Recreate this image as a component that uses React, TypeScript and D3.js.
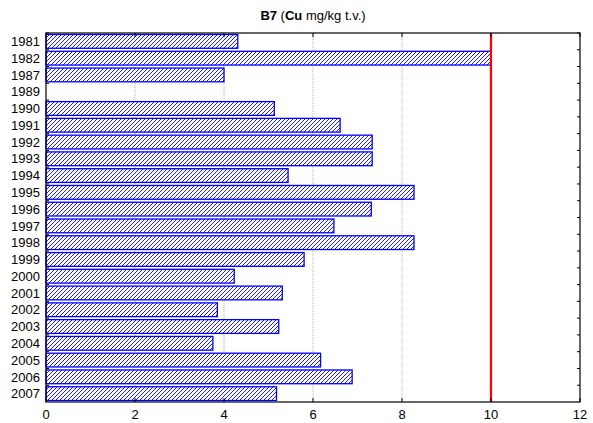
import React from "react";
import * as d3 from "d3";

const years = ["1981","1982","1987","1989","1990","1991","1992","1993","1994","1995","1996","1997","1998","1999","2000","2001","2002","2003","2004","2005","2006","2007"];
const values: (number | null)[] = [4.31,10.0,4.0,null,5.13,6.61,7.33,7.33,5.44,8.27,7.31,6.47,8.27,5.8,4.23,5.31,3.85,5.23,3.75,6.17,6.88,5.18];
const xTicks = [0,2,4,6,8,10,12];
const limitValue = 10;

const W = 593, H = 423;
const M = { left: 46, right: 13, top: 33, bottom: 21 };

export default function App() {
  const x = d3.scaleLinear().domain([0, 12]).range([M.left, W - M.right]);
  const y = d3.scaleBand().domain(years).range([M.top, H - M.bottom]).paddingInner(0.18).paddingOuter(0.09);
  const step = y.step();
  const font = "Liberation Sans, Arial, sans-serif";
  const top = M.top, bottom = H - M.bottom, left = M.left, right = W - M.right;
  return (
    <svg width={W} height={H} style={{ position: "absolute", left: 0, top: 0, background: "#fff" }} fontFamily={font}>
      <defs>
        <pattern id="hatch" patternUnits="userSpaceOnUse" width={4} height={4}>
          <rect width={4} height={4} fill="#fff" />
          <path d="M-1,1 l2,-2 M0,4 l4,-4 M3,5 l2,-2" stroke="#0000ff" strokeWidth={0.9} />
        </pattern>
      </defs>
      <text x={313} y={20} textAnchor="middle" fontSize={13} fill="#000">
        <tspan fontWeight="bold">B7</tspan>
        <tspan> (</tspan>
        <tspan fontWeight="bold">Cu</tspan>
        <tspan> mg/kg t.v.)</tspan>
      </text>
      {xTicks.filter(t => t > 0 && t < 12).map(t => (
        <line key={"g" + t} x1={x(t)} x2={x(t)} y1={top} y2={bottom} stroke="#b0b0b0" strokeWidth={1} strokeDasharray="1,1" />
      ))}
      {years.map((yr, i) => values[i] == null ? null : (
        <rect key={yr} x={x(0)} y={y(yr)!} width={x(values[i] as number) - x(0)} height={y.bandwidth()}
          fill="url(#hatch)" stroke="#0000ff" strokeWidth={1.3} />
      ))}
      <line x1={x(limitValue)} x2={x(limitValue)} y1={top} y2={bottom} stroke="#ff0000" strokeWidth={2.2} />
      <rect x={left} y={top} width={right - left} height={bottom - top} fill="none" stroke="#000" strokeWidth={1.2} />
      {xTicks.map(t => (
        <g key={"t" + t}>
          <line x1={x(t)} x2={x(t)} y1={top} y2={top + 4} stroke="#000" />
          <line x1={x(t)} x2={x(t)} y1={bottom} y2={bottom - 4} stroke="#000" />
          <text x={x(t)} y={bottom + 17} textAnchor="middle" fontSize={13} fill="#000">{t}</text>
        </g>
      ))}
      {years.map((yr, i) => {
        const yb = M.top + i * step;
        return (
          <g key={"y" + yr}>
            <line x1={left} x2={left + 3} y1={yb} y2={yb} stroke="#000" />
            <line x1={right} x2={right - 3} y1={yb} y2={yb} stroke="#000" />
            <text x={40} y={(y(yr)! + y.bandwidth() / 2)} dy="0.36em" textAnchor="end" fontSize={13} fill="#000">{yr}</text>
          </g>
        );
      })}
    </svg>
  );
}
